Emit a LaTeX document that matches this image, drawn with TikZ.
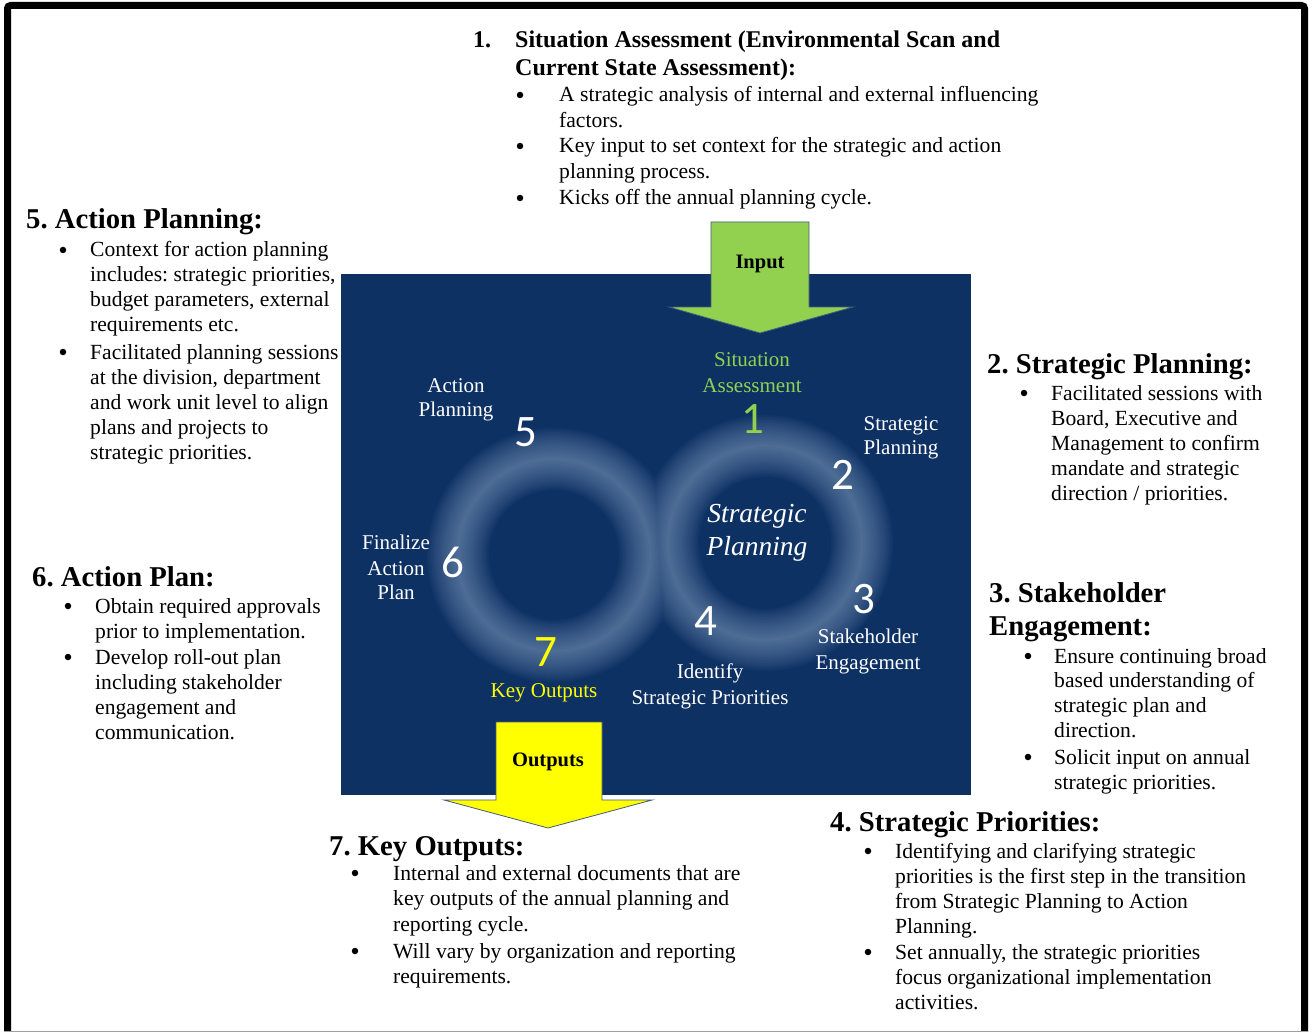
\documentclass[tikz,border=0pt]{standalone}
\usepackage{fontspec}
\setmainfont{Liberation Serif}
\newfontfamily\numfont{Carlito}
\frenchspacing
\definecolor{panelblue}{RGB}{14,49,100}
\definecolor{glowc}{RGB}{150,177,212}
\definecolor{ingreen}{RGB}{146,208,80}
\definecolor{outyellow}{RGB}{255,255,0}
\definecolor{arrowedge}{RGB}{70,90,125}
\newcommand\txtlines[5]{%
  \foreach \tl [count=\ti from 0] in {#5} {\node[body] (#1-\ti) at (#2,{#3+\ti*#4}) {\tl};}}
\tikzset{
  body/.style={font=\frenchspacing\fontsize{21.6}{25}\selectfont, anchor=base west, inner sep=0pt},
  bul/.style={circle, fill=black, inner sep=0pt, minimum size=6.5pt},
  head/.style={font=\frenchspacing\bfseries\fontsize{28.7}{33}\selectfont, anchor=base west, inner sep=0pt},
  headone/.style={font=\frenchspacing\bfseries\fontsize{24}{28}\selectfont, anchor=base west, inner sep=0pt},
  plabel/.style={font=\fontsize{21}{25}\selectfont, text=white, anchor=base, inner sep=0pt},
  pital/.style={font=\itshape\fontsize{27.5}{32}\selectfont, text=white, anchor=base, inner sep=0pt},
  pnum/.style={font=\numfont\fontsize{45}{50}\selectfont, text=white, anchor=center, inner sep=0pt},
  arrowtxt/.style={font=\bfseries\fontsize{20.5}{24}\selectfont, text=black, anchor=base, inner sep=0pt},
  blockarrow/.style={draw=arrowedge, line width=0.8pt, line join=miter}
}
\begin{document}
\begin{tikzpicture}[x=1pt,y=-1pt]
\useasboundingbox (0,0) rectangle (1314,1032);
\fill[white] (0,0) rectangle (1314,1032);
% frame
\draw[line width=7pt, rounded corners=3pt] (7.5,1036) -- (7.5,5.5) -- (1304.5,5.5) -- (1304.5,1036);
\draw[gray!75, line width=1.4pt] (4,1031.3) -- (1308,1031.3);

% central panel
\fill[panelblue] (341,274) rectangle (971,795);
% glowing loops (one path per layer, so the overlap is not doubled)
\foreach \w in {62,58,...,2} {
  \draw[glowc, opacity=0.043, line width=\w pt] (554,555) circle[radius=96pt] (765,543) circle[radius=97pt];
}

% panel labels
\node[plabel, text=ingreen] (sa1) at (752,366) {Situation};
\node[plabel, text=ingreen] (sa2) at (752,392) {Assessment};
\node[pnum, text=ingreen] (n1) at (753,419) {1};
\node[plabel] (sp1) at (901,430) {Strategic};
\node[plabel] (sp2) at (901,454) {Planning};
\node[pnum] (n2) at (843,475) {2};
\node[pital] (ctr1) at (757,522) {Strategic};
\node[pital] (ctr2) at (757,555) {Planning};
\node[pnum] (n3) at (864,599) {3};
\node[plabel] (se1) at (868,643) {Stakeholder};
\node[plabel] (se2) at (868,669) {Engagement};
\node[pnum] (n4) at (706,621) {4};
\node[plabel] (is1) at (710,678) {Identify};
\node[plabel] (is2) at (710,704) {Strategic Priorities};
\node[pnum, text=outyellow] (n7) at (546,652) {7};
\node[plabel, text=outyellow] (ko1) at (544,697) {Key Outputs};
\node[pnum] (n6) at (453,562) {6};
\node[plabel] (fa1) at (396,549) {Finalize};
\node[plabel] (fa2) at (396,575) {Action};
\node[plabel] (fa3) at (396,599) {Plan};
\node[pnum] (n5) at (526,432) {5};
\node[plabel] (ap1) at (456,392) {Action};
\node[plabel] (ap2) at (456,416) {Planning};

% block arrows
\draw[blockarrow, fill=ingreen] (711,222) -- (809,222) -- (809,307) -- (853,307) -- (760,333) -- (669,307) -- (711,307) -- cycle;
\node[arrowtxt] (inlbl) at (760,269) {Input};
\draw[blockarrow, fill=outyellow] (496,722) -- (602,722) -- (602,800) -- (652,800) -- (548,828) -- (444,800) -- (496,800) -- cycle;
\node[arrowtxt] (outlbl) at (548,766) {Outputs};

% Block 1
\node[headone] (h1n) at (473,48) {1.};
\node[headone] (h1a) at (515,48) {Situation Assessment (Environmental Scan and};
\node[headone] (h1b) at (515,76) {Current State Assessment):};
\node[bul] (b1a) at (520,95) {};
\node[bul] (b1b) at (520,146) {};
\node[bul] (b1c) at (520,198) {};
\txtlines{t1a}{559}{102}{25.5}{A strategic analysis of internal and external influencing, factors.}
\txtlines{t1b}{559}{153}{26}{Key input to set context for the strategic and action, planning process.}
\txtlines{t1c}{559}{205}{25}{Kicks off the annual planning cycle.}

% Block 5
\node[head] (h5) at (26,229) {5. Action Planning:};
\node[bul] (b5a) at (63,250) {};
\node[bul] (b5b) at (63,352) {};
\txtlines{t5a}{90}{257}{24.7}{Context for action planning, {includes: strategic priorities,}, {budget parameters, external}, requirements etc.}
\txtlines{t5b}{90}{359}{25}{Facilitated planning sessions, {at the division, department}, and work unit level to align, plans and projects to, strategic priorities.}

% Block 6
\node[head] (h6) at (32,586) {6. Action Plan:};
\node[bul] (b6a) at (68,606) {};
\node[bul] (b6b) at (68,657) {};
\txtlines{t6a}{95}{613}{25}{Obtain required approvals, prior to implementation.}
\txtlines{t6b}{95}{664}{25}{Develop roll-out plan, including stakeholder, engagement and, communication.}

% Block 2
\node[head] (h2) at (987,373) {2. Strategic Planning:};
\node[bul] (b2a) at (1024,393) {};
\txtlines{t2a}{1051}{400}{25}{Facilitated sessions with, {Board, Executive and}, Management to confirm, mandate and strategic, direction / priorities.}

% Block 3
\node[head] (h3a) at (989,602) {3. Stakeholder};
\node[head] (h3b) at (989,635) {Engagement:};
\node[bul] (b3a) at (1028,656) {};
\node[bul] (b3b) at (1028,757) {};
\txtlines{t3a}{1054}{663}{24.7}{Ensure continuing broad, based understanding of, strategic plan and, direction.}
\txtlines{t3b}{1054}{764}{25}{Solicit input on annual, strategic priorities.}

% Block 4
\node[head] (h4) at (830,831) {4. Strategic Priorities:};
\node[bul] (b4a) at (868,851) {};
\node[bul] (b4b) at (868,952) {};
\txtlines{t4a}{895}{858}{25}{Identifying and clarifying strategic, priorities is the first step in the transition, from Strategic Planning to Action, Planning.}
\txtlines{t4b}{895}{959}{25}{{Set annually, the strategic priorities}, focus organizational implementation, activities.}

% Block 7
\node[head] (h7) at (329,855) {7. Key Outputs:};
\node[bul] (b7a) at (355,873) {};
\node[bul] (b7b) at (355,951) {};
\txtlines{t7a}{393}{880}{25.5}{Internal and external documents that are, key outputs of the annual planning and, reporting cycle.}
\txtlines{t7b}{393}{958}{25}{Will vary by organization and reporting, requirements.}
\end{tikzpicture}
\end{document}
